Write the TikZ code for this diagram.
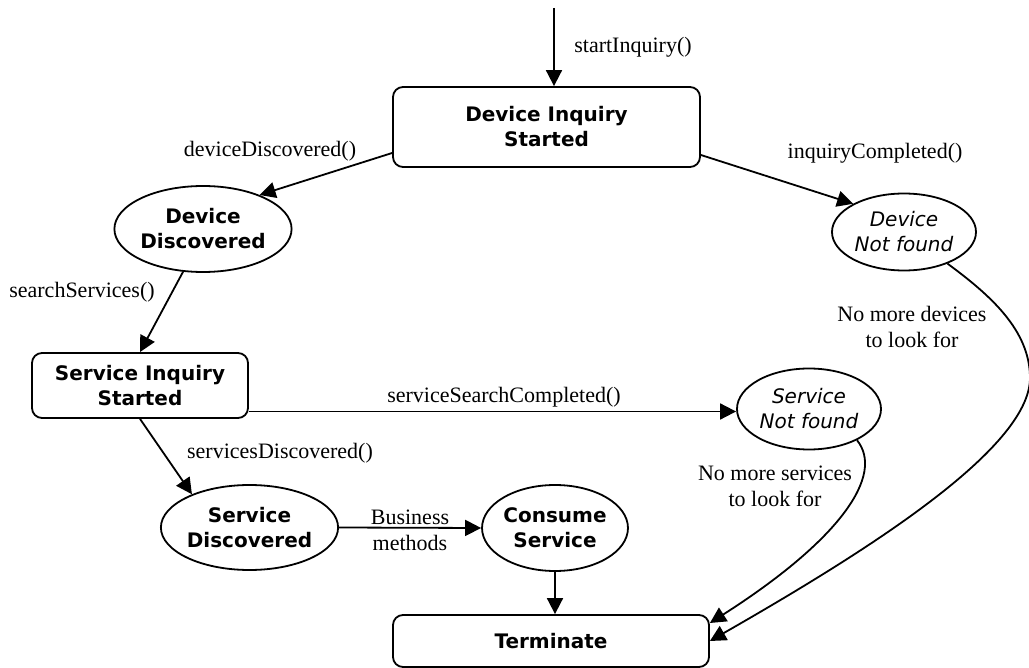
\documentclass[tikz,border=0pt]{standalone}
\usepackage{fontspec}
\setmainfont{Liberation Serif}
\newfontfamily\statefont{DejaVu Sans}
\usetikzlibrary{shapes.geometric,arrows.meta}

\begin{document}
\begin{tikzpicture}[x=0.5pt,y=-0.5pt,
	state/.style={draw,line width=0.9pt,rounded corners=5pt,align=center,inner sep=0pt,font=\statefont\bfseries\fontsize{10}{12.5}\selectfont},
	oval/.style={draw,line width=0.9pt,ellipse,align=center,inner sep=0pt,minimum width=72pt,minimum height=43pt,font=\statefont\bfseries\fontsize{10}{12.5}\selectfont},
	lost/.style={oval,font=\statefont\itshape\fontsize{10}{12.5}\selectfont},
	lbl/.style={align=center,inner sep=0pt,font=\fontsize{11}{13}\selectfont},
	arr/.style={line width=0.9pt,-{Triangle[length=8pt,width=8pt]}}]
	\useasboundingbox (0,0) rectangle (1029,668);
	\node[state,minimum width=153.5pt,minimum height=40pt] (dis) at (546.5,127) {Device Inquiry\\Started};
	\node[oval] (dd) at (203,229) {Device\\Discovered};
	\node[lost,minimum height=38.5pt] (dnf) at (904,232) {Device\\Not found};
	\node[state,minimum width=108pt,minimum height=32.5pt] (sis) at (140,385.5) {Service Inquiry\\Started};
	\node[lost,minimum height=40.5pt] (snf) at (809,409) {Service\\Not found};
	\node[oval,minimum height=42.5pt] (sd) at (249.5,527.5) {Service\\Discovered};
	\node[oval] (cs) at (555,528) {Consume\\Service};
	\node[state,minimum width=158pt,minimum height=26pt] (term) at (551,641) {Terminate};

	\node[lbl] (start) at (633,47) {startInquiry()};
	\node[lbl] (found) at (270,151) {deviceDiscovered()};
	\node[lbl] (done) at (875,153) {inquiryCompleted()};
	\node[lbl] (search) at (82,292) {searchServices()};
	\node[lbl] (sdone) at (504,397) {serviceSearchCompleted()};
	\node[lbl] (sfound) at (280,453) {servicesDiscovered()};
	\node[lbl] (nodev) at (912,327) {No more devices\\to look for};
	\node[lbl] (nosrv) at (775,486) {No more services\\to look for};
	\node[lbl] (biz) at (410,530) {Business\\methods};

	\coordinate (in) at (554,8);
	\coordinate (sisr) at ([yshift=-13pt]sis.east);
	\draw[arr] (in) -- (in |- dis.north);
	\draw[arr] ([yshift=-13pt]dis.west) -- (dd.31);
	\draw[arr] ([yshift=-14pt]dis.east) -- (dnf.151);
	\draw[arr] (dd.-115) -- (sis.north);
	\draw[arr] (sisr) -- (sisr -| snf.west);
	\draw[arr] (sis.south) -- (sd.150);
	\draw[arr] (sd.east) -- (cs.west);
	\draw[arr] (cs.south) -- (cs.south |- term.north);
	\draw[arr] (snf.-33) .. controls (885,475) and (840,540) .. ([yshift=9pt]term.east);
	\draw[arr] (dnf.-36) .. controls (990,295) and (1030,330) .. (1030,378) .. controls (1030,450) and (860,555) .. (term.east);
\end{tikzpicture}
\end{document}
